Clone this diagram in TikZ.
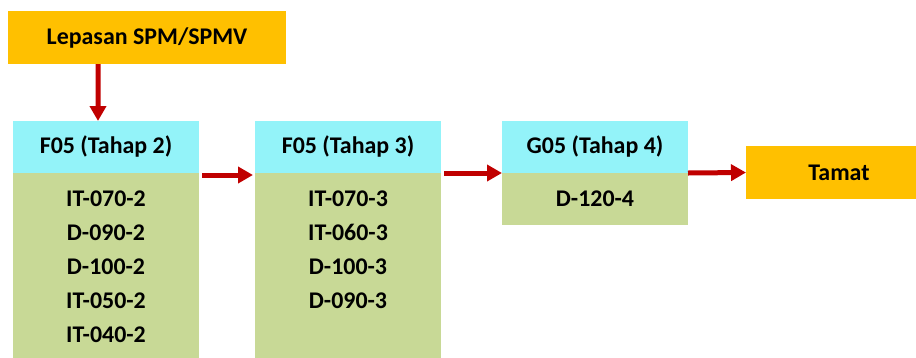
\documentclass[tikz,border=0pt]{standalone}
\usepackage{fontspec}
\setmainfont{Carlito}
\usetikzlibrary{arrows.meta, positioning}
\definecolor{corange}{RGB}{255,192,0}
\definecolor{lightcyan}{RGB}{147,243,249}
\definecolor{lightolive}{RGB}{200,217,150}
\definecolor{cred}{RGB}{192,0,0}

\begin{document}
\begin{tikzpicture}[x=1bp, y=-1bp,
    >={Triangle[length=15bp, width=16bp]},
    box/.style={inner sep=0pt, outer sep=0pt, minimum width=186bp, font=\fontsize{24}{34}\selectfont\bfseries},
    endbox/.style={box, fill=corange, minimum height=53bp},
    head/.style={box, fill=lightcyan, minimum height=52bp},
    body/.style={box, fill=lightolive},
    list/.style={inner sep=0pt, align=center, anchor=north, font=\fontsize{24}{34}\selectfont\bfseries},
    flow/.style={->, draw=cred, line width=5bp},
]
    \useasboundingbox (0,0) rectangle (916,357);

    \node[endbox, minimum width=278bp] (start) at (147,37.5) {Lepasan SPM/SPMV};

    \node[head] (t2) at (106,147) {F05 (Tahap 2)};
    \node[body, below=0pt of t2, minimum height=186bp] (t2body) {};
    \node[list] (t2list) at ([yshift=-18bp]t2body.north) {IT-070-2\\D-090-2\\D-100-2\\IT-050-2\\IT-040-2};

    \node[head] (t3) at (348,147) {F05 (Tahap 3)};
    \node[body, below=0pt of t3, minimum height=186bp] (t3body) {};
    \node[list] (t3list) at ([yshift=-18bp]t3body.north) {IT-070-3\\IT-060-3\\D-100-3\\D-090-3};

    \node[head] (t4) at (595,147) {G05 (Tahap 4)};
    \node[body, below=0pt of t4, minimum height=52bp] (t4body) {D-120-4};

    \node[endbox] (end) at (839,172.5) {Tamat};

    \draw[flow] ([xshift=-49bp]start.south) -- ([xshift=-8bp]t2.north);
    \draw[flow] ([xshift=3bp, yshift=-2bp]t2.south east) -- ([xshift=-2bp, yshift=-2bp]t3.south west);
    \draw[flow] ([xshift=3bp]t3.south east) -- (t4.south west);
    \draw[flow] (t4.south east) -- (end.west);
\end{tikzpicture}
\end{document}
